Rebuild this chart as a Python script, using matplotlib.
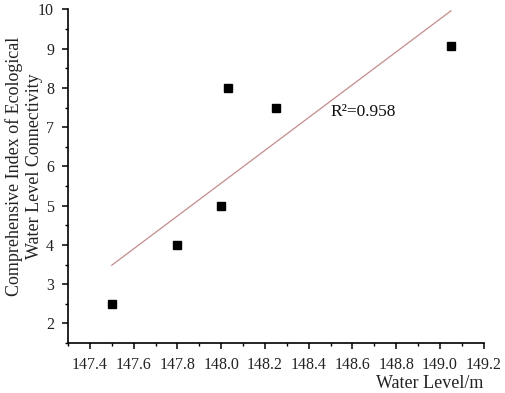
import numpy as np
import matplotlib
matplotlib.use("Agg")
import matplotlib.pyplot as plt
from matplotlib.ticker import MultipleLocator

# water level (m) vs connectivity index
water_level = [147.5, 147.8, 148.0, 148.03, 148.25, 149.05]
connectivity = [2.5, 4.0, 5.0, 8.0, 7.5, 9.08]
r2_text = "R\u00b2=0.958"

plt.rcParams['font.family'] = ['Liberation Serif', 'DejaVu Serif']

fig = plt.figure(figsize=(5.05, 3.93), dpi=100)
ax = fig.add_axes([0.1347, 0.127, 0.8233, 0.849])

# linear fit line
k, b = np.polyfit(water_level, connectivity, 1)
xs = np.array([min(water_level), max(water_level)])
ax.plot(xs, k * xs + b, color='#c48b8b', lw=0.9)

ax.plot(water_level, connectivity, 's', color='black', ms=6)

ax.text(148.5, 7.38, r2_text, fontsize=12.5, va='center', ha='left', color='#111111')

ax.set_xlim(147.3, 149.2)
ax.set_ylim(1.5, 10)
ax.xaxis.set_minor_locator(MultipleLocator(0.1))
ax.yaxis.set_major_locator(MultipleLocator(1))
ax.yaxis.set_minor_locator(MultipleLocator(0.5))
ax.set_xticks(np.arange(147.4, 149.21, 0.2))
ax.set_xticklabels(['%.1f' % v for v in np.arange(147.4, 149.21, 0.2)])

for s in ['top', 'right']:
    ax.spines[s].set_visible(False)
for s in ['left', 'bottom']:
    ax.spines[s].set_linewidth(1.2)

ax.tick_params(which='major', direction='out', length=4, width=1.1, labelsize=11.5,
               labelcolor='#222222', pad=6)
ax.tick_params(which='minor', direction='out', length=2.5, width=1.0)

ax.set_xlabel('Water Level/m', fontsize=13, color='#222222', ha='right', va='top')
ax.xaxis.set_label_coords(1.0, -0.095)
ax.set_ylabel('Comprehensive Index of Ecological\nWater Level Connectivity', fontsize=13,
              color='#222222', linespacing=1.25)
ax.yaxis.set_label_coords(-0.06, 0.53)

fig.savefig('out.png', dpi=100)
